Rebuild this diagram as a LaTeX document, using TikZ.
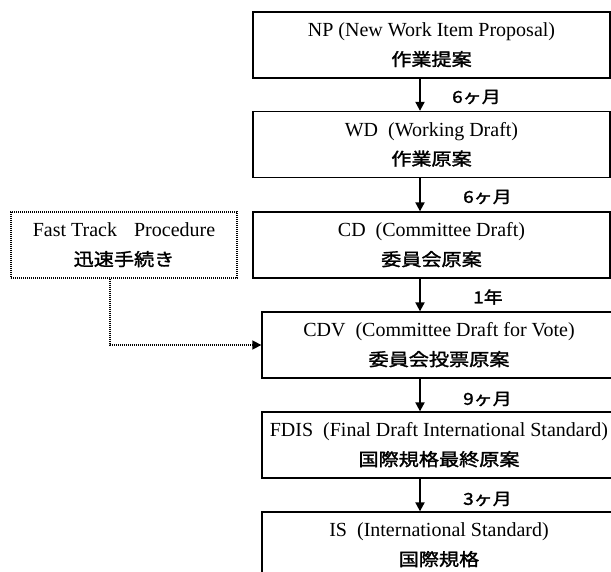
\documentclass[tikz,border=0pt]{standalone}
\usepackage{fontspec}
\setmainfont{Liberation Serif}
\newfontfamily\jp[FakeStretch=1.15,FakeBold=1.6]{Noto Sans CJK JP}
\usetikzlibrary{arrows.meta}

% two-line caption: English on top, Japanese below, each line centred
% with zero width so the frame keeps its own size
\newcommand{\stagetext}[2]{\makebox[0pt]{#1}\\\makebox[0pt]{\jp\fontsize{17.5}{29}\selectfont #2}}
\newcommand{\fwparen}{\hspace{0.5em}(}

\tikzset{
  stage/.style={draw, line width=1.3pt, minimum height=66pt, align=center,
    inner sep=0pt, font=\fontsize{20}{29}\selectfont},
  upper/.style={stage, minimum width=357pt},
  lower/.style={stage, minimum width=354pt},
  fastbox/.style={stage, minimum width=226pt, dash pattern=on 1.2pt off 0.8pt},
  flow/.style={line width=2pt, -{Triangle[length=9pt,width=9pt]}},
  fastflow/.style={line width=1.5pt, dash pattern=on 1.2pt off 0.8pt,
    -{Triangle[length=9pt,width=9pt]}},
  span/.style={anchor=west, inner sep=0pt, font=\jp\fontsize{16.5}{17}\selectfont}
}

\begin{document}
\begin{tikzpicture}[x=1pt,y=-1pt]
  \useasboundingbox (0,0) rectangle (611,572);
  \fill[white] (0,0) rectangle (611,572);
  \clip (0,0) rectangle (611,572);

  % main sequence of stages
  \node[upper] (np)   at (431.5,45)  {\stagetext{NP (New Work Item Proposal)}{作業提案}};
  \node[upper] (wd)   at (431.5,144.5) {\stagetext{WD\fwparen Working Draft)}{作業原案}};
  \node[upper] (cd)   at (431.5,245) {\stagetext{CD\fwparen Committee Draft)}{委員会原案}};
  \node[lower] (cdv)  at (439,345)   {\stagetext{CDV\fwparen Committee Draft for Vote)}{委員会投票原案}};
  \node[lower] (fdis) at (439,445)   {\stagetext{FDIS\fwparen Final Draft International Standard)}{国際規格最終原案}};
  \node[lower] (is)   at (439,545)   {\stagetext{IS\fwparen International Standard)}{国際規格}};

  % fast track entry
  \node[fastbox] (fast) at (124,245) {\stagetext{Fast Track\hspace{0.85em}Procedure}{迅速手続き}};

  % vertical axis of the arrows and the fast-track drop line
  \coordinate (spine) at (420,0);
  \coordinate (drop) at (110,0);

  \draw[flow] (np.south -| spine)   -- (wd.north -| spine);
  \draw[flow] (wd.south -| spine)   -- (cd.north -| spine);
  \draw[flow] (cd.south -| spine)   -- (cdv.north -| spine);
  \draw[flow] (cdv.south -| spine)  -- (fdis.north -| spine);
  \draw[flow] (fdis.south -| spine) -- (is.north -| spine);

  \draw[fastflow] (fast.south -| drop) |- (cdv.west);

  % durations
  \node[span] (d1) at (452,97)  {6ヶ月};
  \node[span] (d2) at (463,197) {6ヶ月};
  \node[span] (d3) at (473,297) {1年};
  \node[span] (d4) at (463,399) {9ヶ月};
  \node[span] (d5) at (463,499) {3ヶ月};
\end{tikzpicture}
\end{document}
